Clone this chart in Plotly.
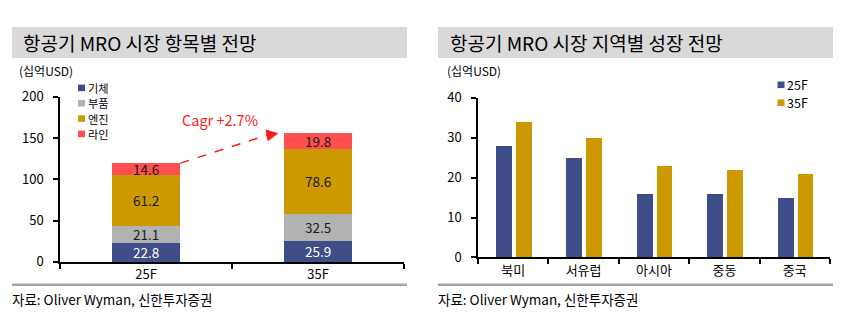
import plotly.graph_objects as go

# ---- data ----
years = ["25F", "35F"]
segments = ["기체", "부품", "엔진", "라인"]
seg_airframe = [22.8, 25.9]
seg_component = [21.1, 32.5]
seg_engine = [61.2, 78.6]
seg_line = [14.6, 19.8]

regions = ["북미", "서유럽", "아시아", "중동", "중국"]
region_25f = [28, 25, 16, 16, 15]
region_35f = [34, 30, 23, 22, 21]

left_yticks = [0, 50, 100, 150, 200]
right_yticks = [0, 10, 20, 30, 40]

# ---- styling ----
W, H = 845, 322
FONT = "Noto Sans CJK KR"
NAVY = "#3f4e88"
GRAY = "#b2b2b2"
GOLD = "#cc9900"
RED = "#ff5050"
ARROW_RED = "#ff1a1a"


def px_x(p):
    """pixel x -> paper fraction"""
    return p / W


def px_y(p):
    """pixel y (from top) -> paper fraction"""
    return 1 - p / H


fig = go.Figure()

# stacked bars: MRO market by segment
seg_values = [seg_airframe, seg_component, seg_engine, seg_line]
seg_colors = [NAVY, GRAY, GOLD, RED]
seg_text_colors = ["white", "#1a1a1a", "#1a1a1a", "#1a1a1a"]
for name, vals, col, tcol in zip(segments, seg_values, seg_colors, seg_text_colors):
    fig.add_trace(go.Bar(
        x=years, y=vals, name=name, width=0.4, offsetgroup="seg",
        marker=dict(color=col, line=dict(width=0)),
        text=[f"{v:.1f}" for v in vals], textposition="inside",
        insidetextanchor="middle", constraintext="none", textangle=0,
        textfont=dict(color=tcol, size=13.5, family=FONT),
        xaxis="x", yaxis="y", showlegend=False,
    ))

# grouped bars: MRO market by region
for name, vals, col, off, wd in [("25F", region_25f, NAVY, -0.245, 0.227),
                                 ("35F", region_35f, GOLD, 0.04, 0.22)]:
    fig.add_trace(go.Bar(
        x=regions, y=vals, name=name, width=wd, offset=off, offsetgroup=name,
        marker=dict(color=col, line=dict(width=0)),
        xaxis="x2", yaxis="y2", showlegend=False,
    ))

axis_common = dict(
    showline=True, linecolor="black", linewidth=1.5,
    ticks="outside", ticklen=5, tickcolor="black", tickwidth=1.5,
    showgrid=False, zeroline=False,
    tickfont=dict(family=FONT, size=13, color="black"),
)

fig.update_layout(
    width=W, height=H,
    margin=dict(l=0, r=0, t=0, b=0),
    paper_bgcolor="white", plot_bgcolor="white",
    barmode="stack",
    font=dict(family=FONT, color="black"),
    xaxis=dict(domain=[px_x(60), px_x(404)], anchor="y",
               tickson="boundaries", **axis_common),
    yaxis=dict(domain=[px_y(267.7), px_y(92.3)], anchor="x",
               range=[0, 200], tickvals=left_yticks, ticklabelstandoff=7,
               **axis_common),
    xaxis2=dict(domain=[px_x(478), px_x(830)], anchor="y2",
                tickson="boundaries", **axis_common),
    yaxis2=dict(domain=[px_y(263), px_y(93.3)], anchor="x2",
                range=[0, 40], tickvals=right_yticks, ticklabelstandoff=7,
                **axis_common),
    showlegend=False,
)

# title bands and bottom rules
for x0, x1 in [(12, 407), (438, 833)]:
    fig.add_shape(type="rect", xref="paper", yref="paper",
                  x0=px_x(x0), x1=px_x(x1), y0=px_y(51), y1=px_y(18),
                  fillcolor="#d9d9d9", line=dict(width=0), layer="below")
    fig.add_shape(type="line", xref="paper", yref="paper",
                  x0=px_x(x0), x1=px_x(x1), y0=px_y(292), y1=px_y(292),
                  line=dict(color="#a6a6a6", width=2.5))

texts = [
    (21, 35, "항공기 MRO 시장 항목별 전망", 19),
    (448, 35, "항공기 MRO 시장 지역별 성장 전망", 19),
    (17, 64, "(십억USD)", 12),
    (445, 64, "(십억USD)", 12),
    (10, 307, "자료: Oliver Wyman, 신한투자증권", 13.5),
    (436, 307, "자료: Oliver Wyman, 신한투자증권", 13.5),
]
for x, y, t, s in texts:
    fig.add_annotation(xref="paper", yref="paper", x=px_x(x), y=px_y(y),
                       text=t, showarrow=False, xanchor="left", yanchor="middle",
                       font=dict(family=FONT, size=s, color="black"))

# legend keys (small squares) with labels
seg_key_y = [82.75, 99.05, 115.35, 131.65]
legend_items = [(78, y, n, c, 11.2) for y, n, c in zip(seg_key_y, segments, seg_colors)]
legend_items += [(777.5, 79.5, "25F", NAVY, 12.5), (777.5, 98.5, "35F", GOLD, 12.5)]
for x, y, name, col, fs in legend_items:
    fig.add_shape(type="rect", xref="paper", yref="paper",
                  x0=px_x(x), x1=px_x(x + 7), y0=px_y(y + 3.5), y1=px_y(y - 3.5),
                  fillcolor=col, line=dict(width=0))
    fig.add_annotation(xref="paper", yref="paper", x=px_x(x + 8.5), y=px_y(y),
                       text=name, showarrow=False, xanchor="left", yanchor="middle",
                       borderpad=0,
                       font=dict(family=FONT, size=fs, color="black"))

# growth arrow between the two stacked totals
total_25 = sum(v[0] for v in seg_values)
total_35 = sum(v[1] for v in seg_values)
cagr = (total_35 / total_25) ** (1 / 10) - 1
x_start, x_end = 0.2, 0.77
fig.add_shape(type="line", xref="x", yref="y",
              x0=x_start, y0=total_25, x1=x_end - 0.04, y1=total_35 - 1.5,
              line=dict(color=ARROW_RED, width=1.5, dash="dash"))
fig.add_annotation(xref="x", yref="y", axref="x", ayref="y",
                   x=x_end, y=total_35 - 1, ax=x_end - 0.08, ay=total_35 - 4,
                   showarrow=True, arrowhead=2, arrowsize=1.6, arrowwidth=1.5,
                   arrowcolor=ARROW_RED, text="")
fig.add_annotation(xref="x", yref="y", x=0.43, y=172,
                   text=f"Cagr +{cagr * 100:.1f}%", showarrow=False,
                   font=dict(family=FONT, size=14.5, color=ARROW_RED))

fig.write_html("out.html")
